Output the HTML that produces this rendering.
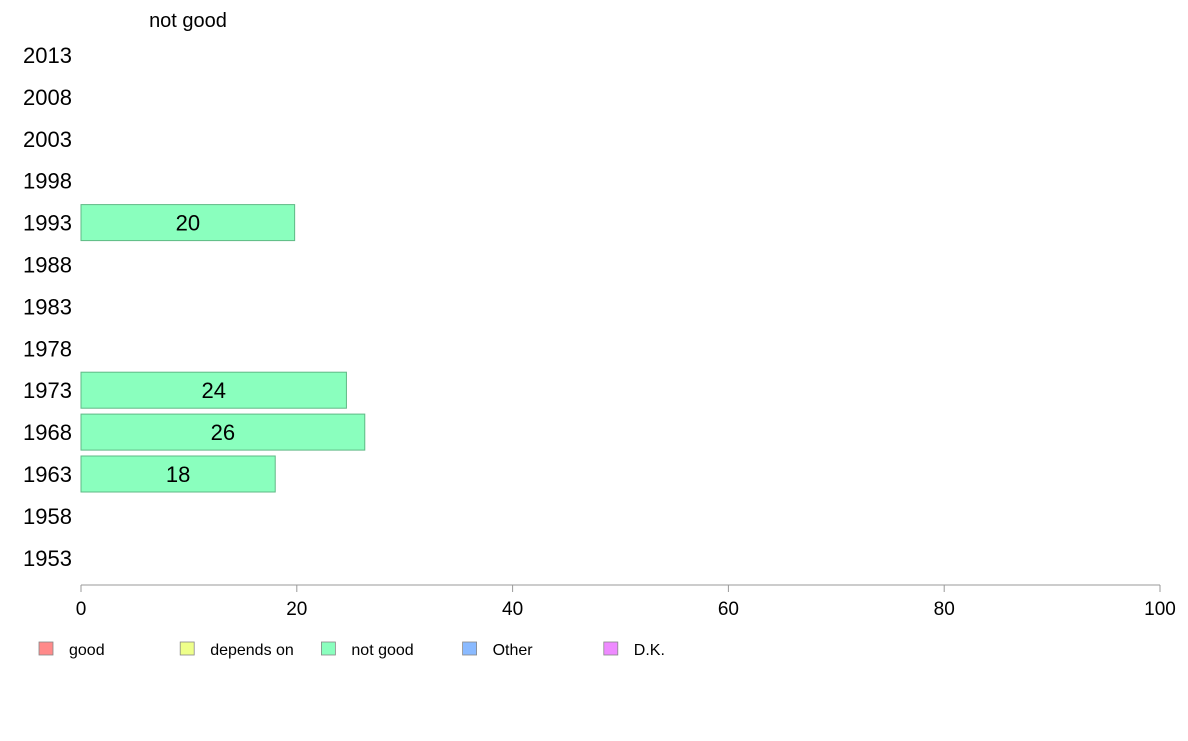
<!DOCTYPE html>
<html><head><meta charset="utf-8"><style>
body{margin:0;background:#fff;font-family:"Liberation Sans",Arial,sans-serif;}
svg text{font-family:"Liberation Sans",Arial,sans-serif;}
</style></head><body>
<svg id="c" width="1188" height="736" xmlns="http://www.w3.org/2000/svg">
<text x="188" y="27" font-size="20" text-anchor="middle" fill="#000">not good</text>
<g id="rows"></g>
<g id="axis"></g>
<g id="legend"></g>
</svg>
<script>
const years = ["2013","2008","2003","1998","1993","1988","1983","1978","1973","1968","1963","1958","1953"];
const values = [null,null,null,null,19.8,null,null,null,24.6,26.3,18.0,null,null];
const labels = ["","","","","20","","","","24","26","18","",""];
const ticks = [0,20,40,60,80,100];
const legendNames = ["good","depends on","not good","Other","D.K."];
const legendColors = ["#ff8a8a","#eeff8a","#8affbe","#8abaff","#ee8aff"];

const NS="http://www.w3.org/2000/svg";
const x0=81,x1=1160;
const xs=v=>x0+(v/100)*(x1-x0);
const ys=i=>55+i*41.9;
function mk(t,a,p){const e=document.createElementNS(NS,t);for(const k in a)e.setAttribute(k,a[k]);p.appendChild(e);return e;}
const rows=document.getElementById('rows');
years.forEach((y,i)=>{
  const cy=ys(i);
  const t=mk('text',{x:72,y:cy+8,'font-size':22,'text-anchor':'end',fill:'#000'},rows);
  
  
  t.textContent=y;
  if(values[i]!=null){
    const r=mk('rect',{x:x0,y:cy-18,width:xs(values[i])-x0,height:36,fill:'#8affbe',stroke:'#5fb985','stroke-width':1},rows);
    
    
    const l=mk('text',{x:(x0+xs(values[i]))/2,y:cy+8,'font-size':22,'text-anchor':'middle',fill:'#000'},rows);
    
    
    l.textContent=labels[i];
  }
});
const ax=document.getElementById('axis');
const al=mk('line',{x1:x0,x2:x1,y1:585,y2:585,stroke:'#999','stroke-width':1},ax);


ticks.forEach(v=>{
  const tl=mk('line',{x1:xs(v),x2:xs(v),y1:585,y2:592,stroke:'#999','stroke-width':1},ax);
  
  
  const tt=mk('text',{x:xs(v),y:615,'font-size':19,'text-anchor':'middle',fill:'#000'},ax);
  
  
  tt.textContent=v;
});
const lg=document.getElementById('legend');
legendNames.forEach((n,i)=>{
  const x=39+i*141.2;
  const g=mk('g',{},lg);
  
  
  mk('rect',{x:x,y:642,width:14,height:13,fill:legendColors[i],stroke:'#888','stroke-width':0.8},g);
  const t=mk('text',{x:x+30,y:655,'font-size':16,fill:'#000'},g);
  t.textContent=n;
});
</script>
</body></html>
